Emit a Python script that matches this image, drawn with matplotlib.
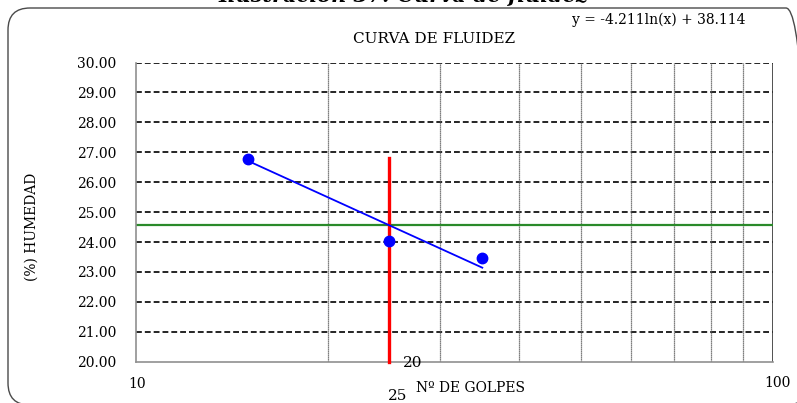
#! /usr/bin/env python3

import matplotlib
matplotlib.use('Agg')
import matplotlib.pyplot as plt
from matplotlib.patches import FancyBboxPatch
from matplotlib.transforms import IdentityTransform
import numpy as np

# blows vs moisture content
golpes = [15, 25, 35]
humedad = [26.79, 24.04, 23.46]

# log trend from the chart label
trend_a = -4.211
trend_b = 38.114
humedad_25 = 24.56
red_top = 26.8

y_ticks = [20, 21, 22, 23, 24, 25, 26, 27, 28, 29, 30]
x_minor = [20, 30, 40, 50, 60, 70, 80, 90]

SERIF = 'DejaVu Serif'

def main():
    fig = plt.figure(figsize=(7.97, 4.03), dpi=100)
    W, H = 797.0, 403.0

    # rounded frame around the chart (pixel coords, origin bottom-left)
    frame = FancyBboxPatch((8, H - 405), 800, 397,
                           boxstyle='round,pad=0,rounding_size=22',
                           transform=IdentityTransform(), fill=False,
                           edgecolor='#4a4a4a', linewidth=1.0, clip_on=False)
    fig.patches.append(frame)

    ax = fig.add_axes([136 / W, 1 - 361.7 / H, (772.5 - 136) / W, (361.7 - 62.5) / H])
    ax.set_xscale('log')
    ax.set_xlim(10, 100)
    ax.set_ylim(20, 30)

    for v in y_ticks[1:]:
        ax.axhline(v, color='black', lw=1.2, ls=(0, (3.5, 1.8)), zorder=1)
    for v in x_minor:
        ax.axvline(v, color='#555555', lw=0.9, ls=(0, (1, 0.6)), zorder=1)
    ax.axvline(100, color='#333333', lw=1.2, zorder=1)

    ax.axhline(humedad_25, color='#2a8a2a', lw=1.6, zorder=2)
    ax.plot([25, 25], [20, red_top], color='red', lw=2.4, zorder=3, clip_on=False)

    xs = np.array([min(golpes), max(golpes)])
    ax.plot(xs, trend_a * np.log(xs) + trend_b, color='blue', lw=1.3, zorder=4)
    ax.plot(golpes, humedad, 'o', color='blue', markersize=7.5, zorder=5)

    ax.set_yticks(y_ticks)
    ax.set_yticklabels(['%.2f' % v for v in y_ticks], fontfamily=SERIF, fontsize=10)
    ax.tick_params(axis='y', length=0, pad=14)
    ax.set_xticks([])
    ax.set_xticks([], minor=True)

    for side in ['left', 'bottom']:
        ax.spines[side].set_color('#909090')
        ax.spines[side].set_linewidth(1.2)
    ax.spines['top'].set_visible(False)
    ax.spines['right'].set_visible(False)

    def ftext(x, y, s, va='center', **kw):
        fig.text(x / W, 1 - y / H, s, ha='center', va=va, fontfamily=SERIF, **kw)

    ftext(403, 2.5, 'Ilustración 37: Curva de fluidez', fontsize=15, fontweight='bold',
          fontstyle='italic', va='baseline')
    ftext(434, 39, 'CURVA DE FLUIDEZ', fontsize=11)
    ftext(659, 20, 'y = -4.211ln(x) + 38.114', fontsize=10)
    ftext(137, 384, '10', fontsize=10)
    ftext(777, 383, '100', fontsize=10)
    ftext(470, 388, 'Nº DE GOLPES', fontsize=10)
    ftext(413, 363, '20', fontsize=11)
    ftext(398, 396, '25', fontsize=11)
    ftext(32, 227, '(%) HUMEDAD', fontsize=10, rotation=90)

    fig.savefig('out.png', dpi=100)

if __name__ == '__main__':
    main()
